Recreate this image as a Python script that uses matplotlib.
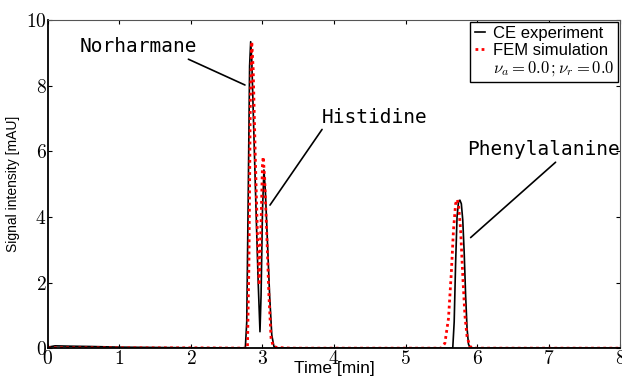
import matplotlib
matplotlib.use("Agg")
import matplotlib.pyplot as plt
from matplotlib.ticker import FuncFormatter

plt.rcParams['mathtext.fontset'] = 'cm'
plt.rcParams['font.family'] = ['Liberation Sans', 'DejaVu Sans']

# CE experiment (black)
ce_t = [0.0, 0.1, 0.3, 0.6, 1.0, 1.5, 2.0, 2.5, 2.76,
        2.78, 2.80, 2.82, 2.835, 2.85, 2.88, 2.91, 2.94, 2.965,
        2.98, 3.00, 3.02, 3.04, 3.07, 3.10, 3.13, 3.16, 3.20,
        4.0, 5.0, 5.66, 5.68, 5.70, 5.72, 5.74, 5.76, 5.78, 5.80,
        5.82, 5.84, 5.86, 5.88, 5.90, 5.93, 6.5, 7.0, 8.0]
ce_v = [0.03, 0.07, 0.06, 0.05, 0.03, 0.02, 0.01, 0.01, 0.0,
        0.8, 4.5, 8.6, 9.34, 8.8, 6.5, 4.2, 2.0, 0.5,
        1.6, 4.2, 5.43, 4.8, 3.2, 1.6, 0.4, 0.05, 0.01,
        0.0, 0.0, 0.0, 0.8, 2.6, 4.0, 4.45, 4.51, 4.4, 3.9,
        2.9, 1.6, 0.6, 0.12, 0.03, 0.0, 0.0, 0.0, 0.0]

# FEM simulation (red dotted)
fem_t = [0.0, 1.0, 2.0, 2.79, 2.81, 2.83, 2.85, 2.87, 2.90, 2.93, 2.955,
         2.98, 3.00, 3.01, 3.03, 3.06, 3.09, 3.12, 3.15, 3.20, 3.30, 3.40,
         4.0, 5.0, 5.50, 5.55, 5.60, 5.64, 5.67, 5.70, 5.72, 5.74, 5.77,
         5.80, 5.83, 5.86, 5.90, 5.95, 7.0, 8.0]
fem_v = [0.01, 0.01, 0.01, 0.0, 2.5, 7.5, 9.34, 8.5, 5.8, 3.4, 1.92,
         3.8, 5.6, 5.83, 5.2, 3.5, 1.6, 0.3, 0.06, 0.02, 0.01, 0.0,
         0.0, 0.0, 0.0, 0.15, 0.9, 2.3, 3.6, 4.4, 4.53, 4.4, 3.6,
         2.2, 1.0, 0.35, 0.05, 0.0, 0.0, 0.0]

peak_names = ['Norharmane', 'Histidine', 'Phenylalanine']
label_pos = [(0.45, 9.18), (3.83, 7.04), (5.86, 6.04)]
line_end = [(2.755, 8.02), (3.105, 4.36), (5.91, 3.37)]
line_rel = [(0.87, 0.0), (0.02, 0.0), (0.6, 0.0)]

fig = plt.figure(figsize=(6.22, 3.78), dpi=100)
ax = fig.add_axes([0.077, 0.079, 0.92, 0.868])

ax.plot(ce_t, ce_v, color='black', lw=1.2, label='CE experiment')
ax.plot(fem_t, fem_v, color='red', lw=2, ls=(0, (1, 1.2)), label='FEM simulation')
ax.plot([], [], ls='none', label=r'$\nu_a=0.0\,;\nu_r=0.0$')

for name, p, e, r in zip(peak_names, label_pos, line_end, line_rel):
    ax.annotate(name, xy=e, xytext=p, ha='left', va='center',
                family='DejaVu Sans Mono', fontsize=14,
                arrowprops=dict(arrowstyle='-', color='black', lw=1.2,
                                shrinkA=0, shrinkB=0, relpos=r))

ax.set_xlim(0, 8)
ax.set_ylim(0, 10)
ax.set_xticks(range(0, 9))
ax.set_yticks(range(0, 11, 2))
fmt = FuncFormatter(lambda v, pos: r'$%d$' % v)
ax.xaxis.set_major_formatter(fmt)
ax.yaxis.set_major_formatter(fmt)
ax.tick_params(direction='in', top=True, right=True, labelsize=14, length=3, pad=1)
ax.set_xlabel('Time [min]', fontsize=12.5, labelpad=-5)
ax.set_ylabel('Signal intensity [mAU]', fontsize=10, labelpad=4)

for s in ['left', 'bottom']:
    ax.spines[s].set_linewidth(1.3)
for s in ['top', 'right']:
    ax.spines[s].set_linewidth(0.8)
    ax.spines[s].set_color('#555555')

leg = ax.legend(loc='upper right', fontsize=12, handlelength=0.6, handletextpad=0.5,
                borderaxespad=0.1, labelspacing=0.1, fancybox=False, framealpha=1,
                borderpad=0.25)
leg.get_frame().set_edgecolor('black')
leg.get_frame().set_linewidth(1.0)

fig.savefig('out.png', dpi=100)
